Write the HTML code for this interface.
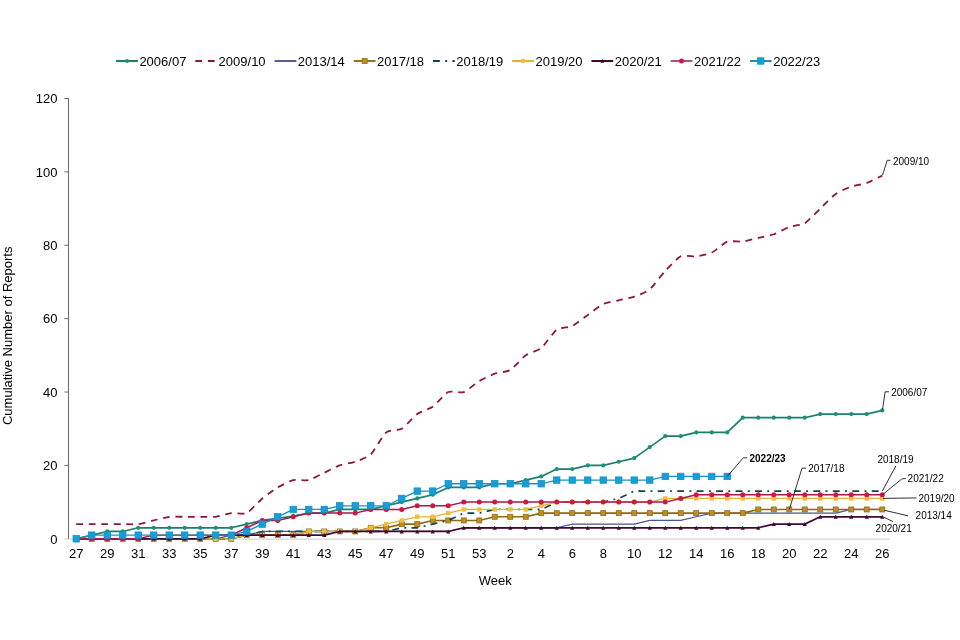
<!DOCTYPE html>
<html lang="en"><head><meta charset="utf-8"><title>Cumulative Number of Reports by Week</title>
<style>html,body{margin:0;padding:0;background:#fff}body{width:960px;height:640px;overflow:hidden}svg{display:block}text{font-family:"Liberation Sans",Arial,sans-serif;fill:#000}.t{font-size:13px}.d{font-size:10px}.b{font-weight:bold}</style></head><body>
<svg width="960" height="640" viewBox="0 0 960 640">
<rect width="960" height="640" fill="#fff"/>
<g id="axes">
<line x1="64.4" y1="539.2" x2="890" y2="539.2" stroke="#d6d6d6" stroke-width="1.2"/>
<line x1="68.5" y1="98" x2="68.5" y2="538.8" stroke="#707070" stroke-width="1.1"/>
<text class="t" x="57.5" y="543.50" text-anchor="end">0</text>
<line x1="64.3" y1="465.42" x2="68.5" y2="465.42" stroke="#6b6b6b" stroke-width="1"/>
<text class="t" x="57.5" y="470.12" text-anchor="end">20</text>
<line x1="64.3" y1="392.04" x2="68.5" y2="392.04" stroke="#6b6b6b" stroke-width="1"/>
<text class="t" x="57.5" y="396.74" text-anchor="end">40</text>
<line x1="64.3" y1="318.66" x2="68.5" y2="318.66" stroke="#6b6b6b" stroke-width="1"/>
<text class="t" x="57.5" y="323.36" text-anchor="end">60</text>
<line x1="64.3" y1="245.28" x2="68.5" y2="245.28" stroke="#6b6b6b" stroke-width="1"/>
<text class="t" x="57.5" y="249.98" text-anchor="end">80</text>
<line x1="64.3" y1="171.90" x2="68.5" y2="171.90" stroke="#6b6b6b" stroke-width="1"/>
<text class="t" x="57.5" y="176.60" text-anchor="end">100</text>
<line x1="64.3" y1="98.52" x2="68.5" y2="98.52" stroke="#6b6b6b" stroke-width="1"/>
<text class="t" x="57.5" y="103.22" text-anchor="end">120</text>
<text class="t" x="76.25" y="558.4" text-anchor="middle">27</text>
<text class="t" x="107.25" y="558.4" text-anchor="middle">29</text>
<text class="t" x="138.25" y="558.4" text-anchor="middle">31</text>
<text class="t" x="169.25" y="558.4" text-anchor="middle">33</text>
<text class="t" x="200.25" y="558.4" text-anchor="middle">35</text>
<text class="t" x="231.25" y="558.4" text-anchor="middle">37</text>
<text class="t" x="262.25" y="558.4" text-anchor="middle">39</text>
<text class="t" x="293.25" y="558.4" text-anchor="middle">41</text>
<text class="t" x="324.25" y="558.4" text-anchor="middle">43</text>
<text class="t" x="355.25" y="558.4" text-anchor="middle">45</text>
<text class="t" x="386.25" y="558.4" text-anchor="middle">47</text>
<text class="t" x="417.25" y="558.4" text-anchor="middle">49</text>
<text class="t" x="448.25" y="558.4" text-anchor="middle">51</text>
<text class="t" x="479.25" y="558.4" text-anchor="middle">53</text>
<text class="t" x="510.25" y="558.4" text-anchor="middle">2</text>
<text class="t" x="541.25" y="558.4" text-anchor="middle">4</text>
<text class="t" x="572.25" y="558.4" text-anchor="middle">6</text>
<text class="t" x="603.25" y="558.4" text-anchor="middle">8</text>
<text class="t" x="634.25" y="558.4" text-anchor="middle">10</text>
<text class="t" x="665.25" y="558.4" text-anchor="middle">12</text>
<text class="t" x="696.25" y="558.4" text-anchor="middle">14</text>
<text class="t" x="727.25" y="558.4" text-anchor="middle">16</text>
<text class="t" x="758.25" y="558.4" text-anchor="middle">18</text>
<text class="t" x="789.25" y="558.4" text-anchor="middle">20</text>
<text class="t" x="820.25" y="558.4" text-anchor="middle">22</text>
<text class="t" x="851.25" y="558.4" text-anchor="middle">24</text>
<text class="t" x="882.25" y="558.4" text-anchor="middle">26</text>
<text class="t" x="495.3" y="585.2" text-anchor="middle">Week</text>
<text class="t" transform="translate(12.1 335.8) rotate(-90)" text-anchor="middle">Cumulative Number of Reports</text>
</g>
<g id="s2006-07">
<path d="M76.25 538.80 L91.75 535.13 L107.25 531.46 L122.75 531.46 L138.25 527.79 L153.75 527.79 L169.25 527.79 L184.75 527.79 L200.25 527.79 L215.75 527.79 L231.25 527.79 L246.75 524.12 L262.25 520.45 L277.75 518.25 L293.25 516.05 L308.75 513.12 L324.25 513.12 L339.75 509.45 L355.25 509.45 L370.75 509.45 L386.25 505.78 L401.75 502.11 L417.25 498.44 L432.75 494.77 L448.25 487.43 L463.75 487.43 L479.25 487.43 L494.75 483.76 L510.25 483.76 L525.75 480.10 L541.25 476.43 L556.75 469.09 L572.25 469.09 L587.75 465.42 L603.25 465.42 L618.75 461.75 L634.25 458.08 L649.75 447.07 L665.25 436.07 L680.75 436.07 L696.25 432.40 L711.75 432.40 L727.25 432.40 L742.75 417.72 L758.25 417.72 L773.75 417.72 L789.25 417.72 L804.75 417.72 L820.25 414.05 L835.75 414.05 L851.25 414.05 L866.75 414.05 L882.25 410.38" fill="none" stroke="#1C7E69" stroke-width="1.7" stroke-linejoin="round"/>
<circle cx="76.25" cy="538.80" r="2.10" fill="#1A917A"/><circle cx="91.75" cy="535.13" r="2.10" fill="#1A917A"/><circle cx="107.25" cy="531.46" r="2.10" fill="#1A917A"/><circle cx="122.75" cy="531.46" r="2.10" fill="#1A917A"/><circle cx="138.25" cy="527.79" r="2.10" fill="#1A917A"/><circle cx="153.75" cy="527.79" r="2.10" fill="#1A917A"/><circle cx="169.25" cy="527.79" r="2.10" fill="#1A917A"/><circle cx="184.75" cy="527.79" r="2.10" fill="#1A917A"/><circle cx="200.25" cy="527.79" r="2.10" fill="#1A917A"/><circle cx="215.75" cy="527.79" r="2.10" fill="#1A917A"/><circle cx="231.25" cy="527.79" r="2.10" fill="#1A917A"/><circle cx="246.75" cy="524.12" r="2.10" fill="#1A917A"/><circle cx="262.25" cy="520.45" r="2.10" fill="#1A917A"/><circle cx="277.75" cy="518.25" r="2.10" fill="#1A917A"/><circle cx="293.25" cy="516.05" r="2.10" fill="#1A917A"/><circle cx="308.75" cy="513.12" r="2.10" fill="#1A917A"/><circle cx="324.25" cy="513.12" r="2.10" fill="#1A917A"/><circle cx="339.75" cy="509.45" r="2.10" fill="#1A917A"/><circle cx="355.25" cy="509.45" r="2.10" fill="#1A917A"/><circle cx="370.75" cy="509.45" r="2.10" fill="#1A917A"/><circle cx="386.25" cy="505.78" r="2.10" fill="#1A917A"/><circle cx="401.75" cy="502.11" r="2.10" fill="#1A917A"/><circle cx="417.25" cy="498.44" r="2.10" fill="#1A917A"/><circle cx="432.75" cy="494.77" r="2.10" fill="#1A917A"/><circle cx="448.25" cy="487.43" r="2.10" fill="#1A917A"/><circle cx="463.75" cy="487.43" r="2.10" fill="#1A917A"/><circle cx="479.25" cy="487.43" r="2.10" fill="#1A917A"/><circle cx="494.75" cy="483.76" r="2.10" fill="#1A917A"/><circle cx="510.25" cy="483.76" r="2.10" fill="#1A917A"/><circle cx="525.75" cy="480.10" r="2.10" fill="#1A917A"/><circle cx="541.25" cy="476.43" r="2.10" fill="#1A917A"/><circle cx="556.75" cy="469.09" r="2.10" fill="#1A917A"/><circle cx="572.25" cy="469.09" r="2.10" fill="#1A917A"/><circle cx="587.75" cy="465.42" r="2.10" fill="#1A917A"/><circle cx="603.25" cy="465.42" r="2.10" fill="#1A917A"/><circle cx="618.75" cy="461.75" r="2.10" fill="#1A917A"/><circle cx="634.25" cy="458.08" r="2.10" fill="#1A917A"/><circle cx="649.75" cy="447.07" r="2.10" fill="#1A917A"/><circle cx="665.25" cy="436.07" r="2.10" fill="#1A917A"/><circle cx="680.75" cy="436.07" r="2.10" fill="#1A917A"/><circle cx="696.25" cy="432.40" r="2.10" fill="#1A917A"/><circle cx="711.75" cy="432.40" r="2.10" fill="#1A917A"/><circle cx="727.25" cy="432.40" r="2.10" fill="#1A917A"/><circle cx="742.75" cy="417.72" r="2.10" fill="#1A917A"/><circle cx="758.25" cy="417.72" r="2.10" fill="#1A917A"/><circle cx="773.75" cy="417.72" r="2.10" fill="#1A917A"/><circle cx="789.25" cy="417.72" r="2.10" fill="#1A917A"/><circle cx="804.75" cy="417.72" r="2.10" fill="#1A917A"/><circle cx="820.25" cy="414.05" r="2.10" fill="#1A917A"/><circle cx="835.75" cy="414.05" r="2.10" fill="#1A917A"/><circle cx="851.25" cy="414.05" r="2.10" fill="#1A917A"/><circle cx="866.75" cy="414.05" r="2.10" fill="#1A917A"/><circle cx="882.25" cy="410.38" r="2.10" fill="#1A917A"/>
</g>
<g id="s2009-10">
<path d="M76.25 524.12 C77.80 524.12 88.65 524.12 91.75 524.12 C94.85 524.12 104.15 524.12 107.25 524.12 C110.35 524.12 119.65 524.12 122.75 524.12 C125.85 524.12 135.15 524.49 138.25 524.12 C141.35 523.76 150.65 521.19 153.75 520.45 C156.85 519.72 166.15 517.15 169.25 516.79 C172.35 516.42 181.65 516.79 184.75 516.79 C187.85 516.79 197.15 516.79 200.25 516.79 C203.35 516.79 212.65 517.15 215.75 516.79 C218.85 516.42 228.15 513.48 231.25 513.12 C234.35 512.75 243.65 514.58 246.75 513.12 C249.85 511.65 259.15 501.01 262.25 498.44 C265.35 495.87 274.65 489.27 277.75 487.43 C280.85 485.60 290.15 480.83 293.25 480.10 C296.35 479.36 305.65 480.83 308.75 480.10 C311.85 479.36 321.15 474.23 324.25 472.76 C327.35 471.29 336.65 466.52 339.75 465.42 C342.85 464.32 352.15 462.85 355.25 461.75 C358.35 460.65 367.65 457.35 370.75 454.41 C373.85 451.48 383.15 434.97 386.25 432.40 C389.35 429.83 398.65 430.56 401.75 428.73 C404.85 426.90 414.15 416.26 417.25 414.05 C420.35 411.85 429.65 408.92 432.75 406.72 C435.85 404.51 445.15 393.51 448.25 392.04 C451.35 390.57 460.65 393.14 463.75 392.04 C466.85 390.94 476.15 382.87 479.25 381.03 C482.35 379.20 491.65 374.80 494.75 373.69 C497.85 372.59 507.15 371.86 510.25 370.03 C513.35 368.19 522.65 357.55 525.75 355.35 C528.85 353.15 538.15 350.58 541.25 348.01 C544.35 345.44 553.65 331.87 556.75 329.67 C559.85 327.47 569.15 327.47 572.25 326.00 C575.35 324.53 584.65 317.19 587.75 314.99 C590.85 312.79 600.15 305.45 603.25 303.98 C606.35 302.52 615.65 301.05 618.75 300.31 C621.85 299.58 631.15 297.75 634.25 296.65 C637.35 295.55 646.65 291.88 649.75 289.31 C652.85 286.74 662.15 274.27 665.25 270.96 C668.35 267.66 677.65 257.75 680.75 256.29 C683.85 254.82 693.15 256.65 696.25 256.29 C699.35 255.92 708.65 254.09 711.75 252.62 C714.85 251.15 724.15 242.71 727.25 241.61 C730.35 240.51 739.65 241.98 742.75 241.61 C745.85 241.24 755.15 238.68 758.25 237.94 C761.35 237.21 770.65 235.37 773.75 234.27 C776.85 233.17 786.15 228.04 789.25 226.93 C792.35 225.83 801.65 225.10 804.75 223.27 C807.85 221.43 817.15 211.53 820.25 208.59 C823.35 205.65 832.65 196.12 835.75 193.91 C838.85 191.71 848.15 187.68 851.25 186.58 C854.35 185.48 863.65 184.01 866.75 182.91 C869.85 181.81 880.70 176.30 882.25 175.57" fill="none" stroke="#8F1638" stroke-width="1.8" stroke-linejoin="round" stroke-dasharray="6.805 5.704"/>
</g>
<g id="s2013-14">
<path d="M76.25 538.80 L91.75 538.80 L107.25 538.80 L122.75 538.80 L138.25 538.80 L153.75 538.80 L169.25 538.80 L184.75 538.80 L200.25 538.80 L215.75 538.80 L231.25 535.13 L246.75 535.13 L262.25 531.46 L277.75 531.46 L293.25 531.46 L308.75 531.46 L324.25 531.46 L339.75 531.46 L355.25 531.46 L370.75 531.46 L386.25 531.46 L401.75 531.46 L417.25 531.46 L432.75 531.46 L448.25 531.46 L463.75 527.79 L479.25 527.79 L494.75 527.79 L510.25 527.79 L525.75 527.79 L541.25 527.79 L556.75 527.79 L572.25 524.12 L587.75 524.12 L603.25 524.12 L618.75 524.12 L634.25 524.12 L649.75 520.45 L665.25 520.45 L680.75 520.45 L696.25 516.79 L711.75 513.12 L727.25 513.12 L742.75 513.12 L758.25 513.12 L773.75 513.12 L789.25 513.12 L804.75 513.12 L820.25 513.12 L835.75 513.12 L851.25 509.45 L866.75 509.45 L882.25 509.45" fill="none" stroke="#46559A" stroke-width="1.2" stroke-linejoin="round"/>
</g>
<g id="s2017-18">
<path d="M76.25 538.80 L91.75 538.80 L107.25 538.80 L122.75 538.80 L138.25 538.80 L153.75 538.80 L169.25 538.80 L184.75 538.80 L200.25 538.80 L215.75 538.80 L231.25 538.80 L246.75 535.13 L262.25 535.13 L277.75 535.13 L293.25 535.13 L308.75 531.46 L324.25 531.46 L339.75 531.46 L355.25 531.46 L370.75 527.79 L386.25 527.79 L401.75 524.12 L417.25 524.12 L432.75 520.45 L448.25 520.45 L463.75 520.45 L479.25 520.45 L494.75 516.79 L510.25 516.79 L525.75 516.79 L541.25 513.12 L556.75 513.12 L572.25 513.12 L587.75 513.12 L603.25 513.12 L618.75 513.12 L634.25 513.12 L649.75 513.12 L665.25 513.12 L680.75 513.12 L696.25 513.12 L711.75 513.12 L727.25 513.12 L742.75 513.12 L758.25 509.45 L773.75 509.45 L789.25 509.45 L804.75 509.45 L820.25 509.45 L835.75 509.45 L851.25 509.45 L866.75 509.45 L882.25 509.45" fill="none" stroke="#8A6A12" stroke-width="1.6" stroke-linejoin="round"/>
<rect x="73.75" y="536.30" width="5.00" height="5.00" fill="#BE911E" stroke="#8F6E14" stroke-width="0.8"/><rect x="89.25" y="536.30" width="5.00" height="5.00" fill="#BE911E" stroke="#8F6E14" stroke-width="0.8"/><rect x="104.75" y="536.30" width="5.00" height="5.00" fill="#BE911E" stroke="#8F6E14" stroke-width="0.8"/><rect x="120.25" y="536.30" width="5.00" height="5.00" fill="#BE911E" stroke="#8F6E14" stroke-width="0.8"/><rect x="135.75" y="536.30" width="5.00" height="5.00" fill="#BE911E" stroke="#8F6E14" stroke-width="0.8"/><rect x="151.25" y="536.30" width="5.00" height="5.00" fill="#BE911E" stroke="#8F6E14" stroke-width="0.8"/><rect x="166.75" y="536.30" width="5.00" height="5.00" fill="#BE911E" stroke="#8F6E14" stroke-width="0.8"/><rect x="182.25" y="536.30" width="5.00" height="5.00" fill="#BE911E" stroke="#8F6E14" stroke-width="0.8"/><rect x="197.75" y="536.30" width="5.00" height="5.00" fill="#BE911E" stroke="#8F6E14" stroke-width="0.8"/><rect x="213.25" y="536.30" width="5.00" height="5.00" fill="#BE911E" stroke="#8F6E14" stroke-width="0.8"/><rect x="228.75" y="536.30" width="5.00" height="5.00" fill="#BE911E" stroke="#8F6E14" stroke-width="0.8"/><rect x="244.25" y="532.63" width="5.00" height="5.00" fill="#BE911E" stroke="#8F6E14" stroke-width="0.8"/><rect x="259.75" y="532.63" width="5.00" height="5.00" fill="#BE911E" stroke="#8F6E14" stroke-width="0.8"/><rect x="275.25" y="532.63" width="5.00" height="5.00" fill="#BE911E" stroke="#8F6E14" stroke-width="0.8"/><rect x="290.75" y="532.63" width="5.00" height="5.00" fill="#BE911E" stroke="#8F6E14" stroke-width="0.8"/><rect x="306.25" y="528.96" width="5.00" height="5.00" fill="#BE911E" stroke="#8F6E14" stroke-width="0.8"/><rect x="321.75" y="528.96" width="5.00" height="5.00" fill="#BE911E" stroke="#8F6E14" stroke-width="0.8"/><rect x="337.25" y="528.96" width="5.00" height="5.00" fill="#BE911E" stroke="#8F6E14" stroke-width="0.8"/><rect x="352.75" y="528.96" width="5.00" height="5.00" fill="#BE911E" stroke="#8F6E14" stroke-width="0.8"/><rect x="368.25" y="525.29" width="5.00" height="5.00" fill="#BE911E" stroke="#8F6E14" stroke-width="0.8"/><rect x="383.75" y="525.29" width="5.00" height="5.00" fill="#BE911E" stroke="#8F6E14" stroke-width="0.8"/><rect x="399.25" y="521.62" width="5.00" height="5.00" fill="#BE911E" stroke="#8F6E14" stroke-width="0.8"/><rect x="414.75" y="521.62" width="5.00" height="5.00" fill="#BE911E" stroke="#8F6E14" stroke-width="0.8"/><rect x="430.25" y="517.95" width="5.00" height="5.00" fill="#BE911E" stroke="#8F6E14" stroke-width="0.8"/><rect x="445.75" y="517.95" width="5.00" height="5.00" fill="#BE911E" stroke="#8F6E14" stroke-width="0.8"/><rect x="461.25" y="517.95" width="5.00" height="5.00" fill="#BE911E" stroke="#8F6E14" stroke-width="0.8"/><rect x="476.75" y="517.95" width="5.00" height="5.00" fill="#BE911E" stroke="#8F6E14" stroke-width="0.8"/><rect x="492.25" y="514.29" width="5.00" height="5.00" fill="#BE911E" stroke="#8F6E14" stroke-width="0.8"/><rect x="507.75" y="514.29" width="5.00" height="5.00" fill="#BE911E" stroke="#8F6E14" stroke-width="0.8"/><rect x="523.25" y="514.29" width="5.00" height="5.00" fill="#BE911E" stroke="#8F6E14" stroke-width="0.8"/><rect x="538.75" y="510.62" width="5.00" height="5.00" fill="#BE911E" stroke="#8F6E14" stroke-width="0.8"/><rect x="554.25" y="510.62" width="5.00" height="5.00" fill="#BE911E" stroke="#8F6E14" stroke-width="0.8"/><rect x="569.75" y="510.62" width="5.00" height="5.00" fill="#BE911E" stroke="#8F6E14" stroke-width="0.8"/><rect x="585.25" y="510.62" width="5.00" height="5.00" fill="#BE911E" stroke="#8F6E14" stroke-width="0.8"/><rect x="600.75" y="510.62" width="5.00" height="5.00" fill="#BE911E" stroke="#8F6E14" stroke-width="0.8"/><rect x="616.25" y="510.62" width="5.00" height="5.00" fill="#BE911E" stroke="#8F6E14" stroke-width="0.8"/><rect x="631.75" y="510.62" width="5.00" height="5.00" fill="#BE911E" stroke="#8F6E14" stroke-width="0.8"/><rect x="647.25" y="510.62" width="5.00" height="5.00" fill="#BE911E" stroke="#8F6E14" stroke-width="0.8"/><rect x="662.75" y="510.62" width="5.00" height="5.00" fill="#BE911E" stroke="#8F6E14" stroke-width="0.8"/><rect x="678.25" y="510.62" width="5.00" height="5.00" fill="#BE911E" stroke="#8F6E14" stroke-width="0.8"/><rect x="693.75" y="510.62" width="5.00" height="5.00" fill="#BE911E" stroke="#8F6E14" stroke-width="0.8"/><rect x="709.25" y="510.62" width="5.00" height="5.00" fill="#BE911E" stroke="#8F6E14" stroke-width="0.8"/><rect x="724.75" y="510.62" width="5.00" height="5.00" fill="#BE911E" stroke="#8F6E14" stroke-width="0.8"/><rect x="740.25" y="510.62" width="5.00" height="5.00" fill="#BE911E" stroke="#8F6E14" stroke-width="0.8"/><rect x="755.75" y="506.95" width="5.00" height="5.00" fill="#BE911E" stroke="#8F6E14" stroke-width="0.8"/><rect x="771.25" y="506.95" width="5.00" height="5.00" fill="#BE911E" stroke="#8F6E14" stroke-width="0.8"/><rect x="786.75" y="506.95" width="5.00" height="5.00" fill="#BE911E" stroke="#8F6E14" stroke-width="0.8"/><rect x="802.25" y="506.95" width="5.00" height="5.00" fill="#BE911E" stroke="#8F6E14" stroke-width="0.8"/><rect x="817.75" y="506.95" width="5.00" height="5.00" fill="#BE911E" stroke="#8F6E14" stroke-width="0.8"/><rect x="833.25" y="506.95" width="5.00" height="5.00" fill="#BE911E" stroke="#8F6E14" stroke-width="0.8"/><rect x="848.75" y="506.95" width="5.00" height="5.00" fill="#BE911E" stroke="#8F6E14" stroke-width="0.8"/><rect x="864.25" y="506.95" width="5.00" height="5.00" fill="#BE911E" stroke="#8F6E14" stroke-width="0.8"/><rect x="879.75" y="506.95" width="5.00" height="5.00" fill="#BE911E" stroke="#8F6E14" stroke-width="0.8"/>
</g>
<g id="s2018-19">
<path d="M76.25 538.80 L91.75 538.80 L107.25 538.80 L122.75 538.80 L138.25 538.80 L153.75 538.80 L169.25 538.80 L184.75 538.80 L200.25 538.80 L215.75 538.80 L231.25 538.80 L246.75 535.13 L262.25 531.46 L277.75 531.46 L293.25 531.46 L308.75 531.46 L324.25 531.46 L339.75 531.46 L355.25 531.46 L370.75 531.46 L386.25 531.46 L401.75 527.79 L417.25 527.79 L432.75 524.12 L448.25 520.45 L463.75 513.12 L479.25 513.12 L494.75 509.45 L510.25 509.45 L525.75 509.45 L541.25 509.45 L556.75 502.11 L572.25 502.11 L587.75 502.11 L603.25 502.11 L618.75 498.44 L634.25 491.10 L649.75 491.10 L665.25 491.10 L680.75 491.10 L696.25 491.10 L711.75 491.10 L727.25 491.10 L742.75 491.10 L758.25 491.10 L773.75 491.10 L789.25 491.10 L804.75 491.10 L820.25 491.10 L835.75 491.10 L851.25 491.10 L866.75 491.10 L882.25 491.10" fill="none" stroke="#0D4552" stroke-width="1.7" stroke-linejoin="round" stroke-dasharray="6.9 5.35 1.9 5.3" stroke-dashoffset="13.50"/>
</g>
<g id="s2019-20">
<path d="M76.25 538.80 L91.75 538.80 L107.25 538.80 L122.75 538.80 L138.25 538.80 L153.75 538.80 L169.25 538.80 L184.75 538.80 L200.25 538.80 L215.75 538.80 L231.25 538.80 L246.75 535.13 L262.25 535.13 L277.75 535.13 L293.25 535.13 L308.75 531.46 L324.25 531.46 L339.75 531.46 L355.25 531.46 L370.75 527.79 L386.25 524.12 L401.75 520.45 L417.25 516.79 L432.75 516.79 L448.25 513.12 L463.75 509.45 L479.25 509.45 L494.75 509.45 L510.25 509.45 L525.75 509.45 L541.25 505.78 L556.75 502.11 L572.25 502.11 L587.75 502.11 L603.25 502.11 L618.75 502.11 L634.25 502.11 L649.75 502.11 L665.25 498.44 L680.75 498.44 L696.25 498.44 L711.75 498.44 L727.25 498.44 L742.75 498.44 L758.25 498.44 L773.75 498.44 L789.25 498.44 L804.75 498.44 L820.25 498.44 L835.75 498.44 L851.25 498.44 L866.75 498.44 L882.25 498.44" fill="none" stroke="#E4B233" stroke-width="1.3" stroke-linejoin="round"/>
<rect x="74.05" y="536.60" width="4.40" height="4.40" fill="#F3BC3A"/><rect x="89.55" y="536.60" width="4.40" height="4.40" fill="#F3BC3A"/><rect x="105.05" y="536.60" width="4.40" height="4.40" fill="#F3BC3A"/><rect x="120.55" y="536.60" width="4.40" height="4.40" fill="#F3BC3A"/><rect x="136.05" y="536.60" width="4.40" height="4.40" fill="#F3BC3A"/><rect x="151.55" y="536.60" width="4.40" height="4.40" fill="#F3BC3A"/><rect x="167.05" y="536.60" width="4.40" height="4.40" fill="#F3BC3A"/><rect x="182.55" y="536.60" width="4.40" height="4.40" fill="#F3BC3A"/><rect x="198.05" y="536.60" width="4.40" height="4.40" fill="#F3BC3A"/><rect x="213.55" y="536.60" width="4.40" height="4.40" fill="#F3BC3A"/><rect x="229.05" y="536.60" width="4.40" height="4.40" fill="#F3BC3A"/><rect x="244.55" y="532.93" width="4.40" height="4.40" fill="#F3BC3A"/><rect x="260.05" y="532.93" width="4.40" height="4.40" fill="#F3BC3A"/><rect x="275.55" y="532.93" width="4.40" height="4.40" fill="#F3BC3A"/><rect x="291.05" y="532.93" width="4.40" height="4.40" fill="#F3BC3A"/><rect x="306.55" y="529.26" width="4.40" height="4.40" fill="#F3BC3A"/><rect x="322.05" y="529.26" width="4.40" height="4.40" fill="#F3BC3A"/><rect x="337.55" y="529.26" width="4.40" height="4.40" fill="#F3BC3A"/><rect x="353.05" y="529.26" width="4.40" height="4.40" fill="#F3BC3A"/><rect x="368.55" y="525.59" width="4.40" height="4.40" fill="#F3BC3A"/><rect x="384.05" y="521.92" width="4.40" height="4.40" fill="#F3BC3A"/><rect x="399.55" y="518.25" width="4.40" height="4.40" fill="#F3BC3A"/><rect x="415.05" y="514.59" width="4.40" height="4.40" fill="#F3BC3A"/><rect x="430.55" y="514.59" width="4.40" height="4.40" fill="#F3BC3A"/><rect x="446.05" y="510.92" width="4.40" height="4.40" fill="#F3BC3A"/><rect x="461.55" y="507.25" width="4.40" height="4.40" fill="#F3BC3A"/><rect x="477.05" y="507.25" width="4.40" height="4.40" fill="#F3BC3A"/><rect x="492.55" y="507.25" width="4.40" height="4.40" fill="#F3BC3A"/><rect x="508.05" y="507.25" width="4.40" height="4.40" fill="#F3BC3A"/><rect x="523.55" y="507.25" width="4.40" height="4.40" fill="#F3BC3A"/><rect x="539.05" y="503.58" width="4.40" height="4.40" fill="#F3BC3A"/><rect x="554.55" y="499.91" width="4.40" height="4.40" fill="#F3BC3A"/><rect x="570.05" y="499.91" width="4.40" height="4.40" fill="#F3BC3A"/><rect x="585.55" y="499.91" width="4.40" height="4.40" fill="#F3BC3A"/><rect x="601.05" y="499.91" width="4.40" height="4.40" fill="#F3BC3A"/><rect x="616.55" y="499.91" width="4.40" height="4.40" fill="#F3BC3A"/><rect x="632.05" y="499.91" width="4.40" height="4.40" fill="#F3BC3A"/><rect x="647.55" y="499.91" width="4.40" height="4.40" fill="#F3BC3A"/><rect x="663.05" y="496.24" width="4.40" height="4.40" fill="#F3BC3A"/><rect x="678.55" y="496.24" width="4.40" height="4.40" fill="#F3BC3A"/><rect x="694.05" y="496.24" width="4.40" height="4.40" fill="#F3BC3A"/><rect x="709.55" y="496.24" width="4.40" height="4.40" fill="#F3BC3A"/><rect x="725.05" y="496.24" width="4.40" height="4.40" fill="#F3BC3A"/><rect x="740.55" y="496.24" width="4.40" height="4.40" fill="#F3BC3A"/><rect x="756.05" y="496.24" width="4.40" height="4.40" fill="#F3BC3A"/><rect x="771.55" y="496.24" width="4.40" height="4.40" fill="#F3BC3A"/><rect x="787.05" y="496.24" width="4.40" height="4.40" fill="#F3BC3A"/><rect x="802.55" y="496.24" width="4.40" height="4.40" fill="#F3BC3A"/><rect x="818.05" y="496.24" width="4.40" height="4.40" fill="#F3BC3A"/><rect x="833.55" y="496.24" width="4.40" height="4.40" fill="#F3BC3A"/><rect x="849.05" y="496.24" width="4.40" height="4.40" fill="#F3BC3A"/><rect x="864.55" y="496.24" width="4.40" height="4.40" fill="#F3BC3A"/><rect x="880.05" y="496.24" width="4.40" height="4.40" fill="#F3BC3A"/>
</g>
<g id="s2020-21">
<path d="M76.25 538.80 L91.75 538.80 L107.25 538.80 L122.75 538.80 L138.25 538.80 L153.75 538.80 L169.25 538.80 L184.75 538.80 L200.25 538.80 L215.75 535.13 L231.25 535.13 L246.75 535.13 L262.25 535.13 L277.75 535.13 L293.25 535.13 L308.75 535.13 L324.25 535.13 L339.75 531.46 L355.25 531.46 L370.75 531.46 L386.25 531.46 L401.75 531.46 L417.25 531.46 L432.75 531.46 L448.25 531.46 L463.75 527.79 L479.25 527.79 L494.75 527.79 L510.25 527.79 L525.75 527.79 L541.25 527.79 L556.75 527.79 L572.25 527.79 L587.75 527.79 L603.25 527.79 L618.75 527.79 L634.25 527.79 L649.75 527.79 L665.25 527.79 L680.75 527.79 L696.25 527.79 L711.75 527.79 L727.25 527.79 L742.75 527.79 L758.25 527.79 L773.75 524.12 L789.25 524.12 L804.75 524.12 L820.25 516.79 L835.75 516.79 L851.25 516.79 L866.75 516.79 L882.25 516.79" fill="none" stroke="#42092F" stroke-width="1.7" stroke-linejoin="round"/>
<path d="M76.25 536.74 L78.40 540.78 L74.10 540.78 Z" fill="#42092F"/><path d="M91.75 536.74 L93.90 540.78 L89.60 540.78 Z" fill="#42092F"/><path d="M107.25 536.74 L109.40 540.78 L105.10 540.78 Z" fill="#42092F"/><path d="M122.75 536.74 L124.90 540.78 L120.60 540.78 Z" fill="#42092F"/><path d="M138.25 536.74 L140.40 540.78 L136.10 540.78 Z" fill="#42092F"/><path d="M153.75 536.74 L155.90 540.78 L151.60 540.78 Z" fill="#42092F"/><path d="M169.25 536.74 L171.40 540.78 L167.10 540.78 Z" fill="#42092F"/><path d="M184.75 536.74 L186.90 540.78 L182.60 540.78 Z" fill="#42092F"/><path d="M200.25 536.74 L202.40 540.78 L198.10 540.78 Z" fill="#42092F"/><path d="M215.75 533.07 L217.90 537.11 L213.60 537.11 Z" fill="#42092F"/><path d="M231.25 533.07 L233.40 537.11 L229.10 537.11 Z" fill="#42092F"/><path d="M246.75 533.07 L248.90 537.11 L244.60 537.11 Z" fill="#42092F"/><path d="M262.25 533.07 L264.40 537.11 L260.10 537.11 Z" fill="#42092F"/><path d="M277.75 533.07 L279.90 537.11 L275.60 537.11 Z" fill="#42092F"/><path d="M293.25 533.07 L295.40 537.11 L291.10 537.11 Z" fill="#42092F"/><path d="M308.75 533.07 L310.90 537.11 L306.60 537.11 Z" fill="#42092F"/><path d="M324.25 533.07 L326.40 537.11 L322.10 537.11 Z" fill="#42092F"/><path d="M339.75 529.40 L341.90 533.44 L337.60 533.44 Z" fill="#42092F"/><path d="M355.25 529.40 L357.40 533.44 L353.10 533.44 Z" fill="#42092F"/><path d="M370.75 529.40 L372.90 533.44 L368.60 533.44 Z" fill="#42092F"/><path d="M386.25 529.40 L388.40 533.44 L384.10 533.44 Z" fill="#42092F"/><path d="M401.75 529.40 L403.90 533.44 L399.60 533.44 Z" fill="#42092F"/><path d="M417.25 529.40 L419.40 533.44 L415.10 533.44 Z" fill="#42092F"/><path d="M432.75 529.40 L434.90 533.44 L430.60 533.44 Z" fill="#42092F"/><path d="M448.25 529.40 L450.40 533.44 L446.10 533.44 Z" fill="#42092F"/><path d="M463.75 525.73 L465.90 529.77 L461.60 529.77 Z" fill="#42092F"/><path d="M479.25 525.73 L481.40 529.77 L477.10 529.77 Z" fill="#42092F"/><path d="M494.75 525.73 L496.90 529.77 L492.60 529.77 Z" fill="#42092F"/><path d="M510.25 525.73 L512.40 529.77 L508.10 529.77 Z" fill="#42092F"/><path d="M525.75 525.73 L527.90 529.77 L523.60 529.77 Z" fill="#42092F"/><path d="M541.25 525.73 L543.40 529.77 L539.10 529.77 Z" fill="#42092F"/><path d="M556.75 525.73 L558.90 529.77 L554.60 529.77 Z" fill="#42092F"/><path d="M572.25 525.73 L574.40 529.77 L570.10 529.77 Z" fill="#42092F"/><path d="M587.75 525.73 L589.90 529.77 L585.60 529.77 Z" fill="#42092F"/><path d="M603.25 525.73 L605.40 529.77 L601.10 529.77 Z" fill="#42092F"/><path d="M618.75 525.73 L620.90 529.77 L616.60 529.77 Z" fill="#42092F"/><path d="M634.25 525.73 L636.40 529.77 L632.10 529.77 Z" fill="#42092F"/><path d="M649.75 525.73 L651.90 529.77 L647.60 529.77 Z" fill="#42092F"/><path d="M665.25 525.73 L667.40 529.77 L663.10 529.77 Z" fill="#42092F"/><path d="M680.75 525.73 L682.90 529.77 L678.60 529.77 Z" fill="#42092F"/><path d="M696.25 525.73 L698.40 529.77 L694.10 529.77 Z" fill="#42092F"/><path d="M711.75 525.73 L713.90 529.77 L709.60 529.77 Z" fill="#42092F"/><path d="M727.25 525.73 L729.40 529.77 L725.10 529.77 Z" fill="#42092F"/><path d="M742.75 525.73 L744.90 529.77 L740.60 529.77 Z" fill="#42092F"/><path d="M758.25 525.73 L760.40 529.77 L756.10 529.77 Z" fill="#42092F"/><path d="M773.75 522.06 L775.90 526.10 L771.60 526.10 Z" fill="#42092F"/><path d="M789.25 522.06 L791.40 526.10 L787.10 526.10 Z" fill="#42092F"/><path d="M804.75 522.06 L806.90 526.10 L802.60 526.10 Z" fill="#42092F"/><path d="M820.25 514.72 L822.40 518.76 L818.10 518.76 Z" fill="#42092F"/><path d="M835.75 514.72 L837.90 518.76 L833.60 518.76 Z" fill="#42092F"/><path d="M851.25 514.72 L853.40 518.76 L849.10 518.76 Z" fill="#42092F"/><path d="M866.75 514.72 L868.90 518.76 L864.60 518.76 Z" fill="#42092F"/><path d="M882.25 514.72 L884.40 518.76 L880.10 518.76 Z" fill="#42092F"/>
</g>
<g id="s2021-22">
<path d="M76.25 538.80 L91.75 538.80 L107.25 538.80 L122.75 538.80 L138.25 538.80 L153.75 535.13 L169.25 535.13 L184.75 535.13 L200.25 535.13 L215.75 535.13 L231.25 535.13 L246.75 527.79 L262.25 520.45 L277.75 520.45 L293.25 516.79 L308.75 513.12 L324.25 513.12 L339.75 513.12 L355.25 513.12 L370.75 509.45 L386.25 509.45 L401.75 509.45 L417.25 505.78 L432.75 505.78 L448.25 505.78 L463.75 502.11 L479.25 502.11 L494.75 502.11 L510.25 502.11 L525.75 502.11 L541.25 502.11 L556.75 502.11 L572.25 502.11 L587.75 502.11 L603.25 502.11 L618.75 502.11 L634.25 502.11 L649.75 502.11 L665.25 502.11 L680.75 498.44 L696.25 494.77 L711.75 494.77 L727.25 494.77 L742.75 494.77 L758.25 494.77 L773.75 494.77 L789.25 494.77 L804.75 494.77 L820.25 494.77 L835.75 494.77 L851.25 494.77 L866.75 494.77 L882.25 494.77" fill="none" stroke="#A8194B" stroke-width="1.5" stroke-linejoin="round"/>
<circle cx="76.25" cy="538.80" r="2.50" fill="#D4153F"/><circle cx="91.75" cy="538.80" r="2.50" fill="#D4153F"/><circle cx="107.25" cy="538.80" r="2.50" fill="#D4153F"/><circle cx="122.75" cy="538.80" r="2.50" fill="#D4153F"/><circle cx="138.25" cy="538.80" r="2.50" fill="#D4153F"/><circle cx="153.75" cy="535.13" r="2.50" fill="#D4153F"/><circle cx="169.25" cy="535.13" r="2.50" fill="#D4153F"/><circle cx="184.75" cy="535.13" r="2.50" fill="#D4153F"/><circle cx="200.25" cy="535.13" r="2.50" fill="#D4153F"/><circle cx="215.75" cy="535.13" r="2.50" fill="#D4153F"/><circle cx="231.25" cy="535.13" r="2.50" fill="#D4153F"/><circle cx="246.75" cy="527.79" r="2.50" fill="#D4153F"/><circle cx="262.25" cy="520.45" r="2.50" fill="#D4153F"/><circle cx="277.75" cy="520.45" r="2.50" fill="#D4153F"/><circle cx="293.25" cy="516.79" r="2.50" fill="#D4153F"/><circle cx="308.75" cy="513.12" r="2.50" fill="#D4153F"/><circle cx="324.25" cy="513.12" r="2.50" fill="#D4153F"/><circle cx="339.75" cy="513.12" r="2.50" fill="#D4153F"/><circle cx="355.25" cy="513.12" r="2.50" fill="#D4153F"/><circle cx="370.75" cy="509.45" r="2.50" fill="#D4153F"/><circle cx="386.25" cy="509.45" r="2.50" fill="#D4153F"/><circle cx="401.75" cy="509.45" r="2.50" fill="#D4153F"/><circle cx="417.25" cy="505.78" r="2.50" fill="#D4153F"/><circle cx="432.75" cy="505.78" r="2.50" fill="#D4153F"/><circle cx="448.25" cy="505.78" r="2.50" fill="#D4153F"/><circle cx="463.75" cy="502.11" r="2.50" fill="#D4153F"/><circle cx="479.25" cy="502.11" r="2.50" fill="#D4153F"/><circle cx="494.75" cy="502.11" r="2.50" fill="#D4153F"/><circle cx="510.25" cy="502.11" r="2.50" fill="#D4153F"/><circle cx="525.75" cy="502.11" r="2.50" fill="#D4153F"/><circle cx="541.25" cy="502.11" r="2.50" fill="#D4153F"/><circle cx="556.75" cy="502.11" r="2.50" fill="#D4153F"/><circle cx="572.25" cy="502.11" r="2.50" fill="#D4153F"/><circle cx="587.75" cy="502.11" r="2.50" fill="#D4153F"/><circle cx="603.25" cy="502.11" r="2.50" fill="#D4153F"/><circle cx="618.75" cy="502.11" r="2.50" fill="#D4153F"/><circle cx="634.25" cy="502.11" r="2.50" fill="#D4153F"/><circle cx="649.75" cy="502.11" r="2.50" fill="#D4153F"/><circle cx="665.25" cy="502.11" r="2.50" fill="#D4153F"/><circle cx="680.75" cy="498.44" r="2.50" fill="#D4153F"/><circle cx="696.25" cy="494.77" r="2.50" fill="#D4153F"/><circle cx="711.75" cy="494.77" r="2.50" fill="#D4153F"/><circle cx="727.25" cy="494.77" r="2.50" fill="#D4153F"/><circle cx="742.75" cy="494.77" r="2.50" fill="#D4153F"/><circle cx="758.25" cy="494.77" r="2.50" fill="#D4153F"/><circle cx="773.75" cy="494.77" r="2.50" fill="#D4153F"/><circle cx="789.25" cy="494.77" r="2.50" fill="#D4153F"/><circle cx="804.75" cy="494.77" r="2.50" fill="#D4153F"/><circle cx="820.25" cy="494.77" r="2.50" fill="#D4153F"/><circle cx="835.75" cy="494.77" r="2.50" fill="#D4153F"/><circle cx="851.25" cy="494.77" r="2.50" fill="#D4153F"/><circle cx="866.75" cy="494.77" r="2.50" fill="#D4153F"/><circle cx="882.25" cy="494.77" r="2.50" fill="#D4153F"/>
</g>
<g id="s2022-23">
<path d="M76.25 538.80 L91.75 535.13 L107.25 535.13 L122.75 535.13 L138.25 535.13 L153.75 535.13 L169.25 535.13 L184.75 535.13 L200.25 535.13 L215.75 535.13 L231.25 535.13 L246.75 531.46 L262.25 524.12 L277.75 516.79 L293.25 509.45 L308.75 509.45 L324.25 509.45 L339.75 505.78 L355.25 505.78 L370.75 505.78 L386.25 505.78 L401.75 498.44 L417.25 491.10 L432.75 491.10 L448.25 483.76 L463.75 483.76 L479.25 483.76 L494.75 483.76 L510.25 483.76 L525.75 483.76 L541.25 483.76 L556.75 480.10 L572.25 480.10 L587.75 480.10 L603.25 480.10 L618.75 480.10 L634.25 480.10 L649.75 480.10 L665.25 476.43 L680.75 476.43 L696.25 476.43 L711.75 476.43 L727.25 476.43" fill="none" stroke="#2090C0" stroke-width="1.3" stroke-linejoin="round"/>
<rect x="73.05" y="535.60" width="6.40" height="6.40" fill="#14A0D7" stroke="#1890C6" stroke-width="0.8"/><rect x="88.55" y="531.93" width="6.40" height="6.40" fill="#14A0D7" stroke="#1890C6" stroke-width="0.8"/><rect x="104.05" y="531.93" width="6.40" height="6.40" fill="#14A0D7" stroke="#1890C6" stroke-width="0.8"/><rect x="119.55" y="531.93" width="6.40" height="6.40" fill="#14A0D7" stroke="#1890C6" stroke-width="0.8"/><rect x="135.05" y="531.93" width="6.40" height="6.40" fill="#14A0D7" stroke="#1890C6" stroke-width="0.8"/><rect x="150.55" y="531.93" width="6.40" height="6.40" fill="#14A0D7" stroke="#1890C6" stroke-width="0.8"/><rect x="166.05" y="531.93" width="6.40" height="6.40" fill="#14A0D7" stroke="#1890C6" stroke-width="0.8"/><rect x="181.55" y="531.93" width="6.40" height="6.40" fill="#14A0D7" stroke="#1890C6" stroke-width="0.8"/><rect x="197.05" y="531.93" width="6.40" height="6.40" fill="#14A0D7" stroke="#1890C6" stroke-width="0.8"/><rect x="212.55" y="531.93" width="6.40" height="6.40" fill="#14A0D7" stroke="#1890C6" stroke-width="0.8"/><rect x="228.05" y="531.93" width="6.40" height="6.40" fill="#14A0D7" stroke="#1890C6" stroke-width="0.8"/><rect x="243.55" y="528.26" width="6.40" height="6.40" fill="#14A0D7" stroke="#1890C6" stroke-width="0.8"/><rect x="259.05" y="520.92" width="6.40" height="6.40" fill="#14A0D7" stroke="#1890C6" stroke-width="0.8"/><rect x="274.55" y="513.59" width="6.40" height="6.40" fill="#14A0D7" stroke="#1890C6" stroke-width="0.8"/><rect x="290.05" y="506.25" width="6.40" height="6.40" fill="#14A0D7" stroke="#1890C6" stroke-width="0.8"/><rect x="305.55" y="506.25" width="6.40" height="6.40" fill="#14A0D7" stroke="#1890C6" stroke-width="0.8"/><rect x="321.05" y="506.25" width="6.40" height="6.40" fill="#14A0D7" stroke="#1890C6" stroke-width="0.8"/><rect x="336.55" y="502.58" width="6.40" height="6.40" fill="#14A0D7" stroke="#1890C6" stroke-width="0.8"/><rect x="352.05" y="502.58" width="6.40" height="6.40" fill="#14A0D7" stroke="#1890C6" stroke-width="0.8"/><rect x="367.55" y="502.58" width="6.40" height="6.40" fill="#14A0D7" stroke="#1890C6" stroke-width="0.8"/><rect x="383.05" y="502.58" width="6.40" height="6.40" fill="#14A0D7" stroke="#1890C6" stroke-width="0.8"/><rect x="398.55" y="495.24" width="6.40" height="6.40" fill="#14A0D7" stroke="#1890C6" stroke-width="0.8"/><rect x="414.05" y="487.90" width="6.40" height="6.40" fill="#14A0D7" stroke="#1890C6" stroke-width="0.8"/><rect x="429.55" y="487.90" width="6.40" height="6.40" fill="#14A0D7" stroke="#1890C6" stroke-width="0.8"/><rect x="445.05" y="480.56" width="6.40" height="6.40" fill="#14A0D7" stroke="#1890C6" stroke-width="0.8"/><rect x="460.55" y="480.56" width="6.40" height="6.40" fill="#14A0D7" stroke="#1890C6" stroke-width="0.8"/><rect x="476.05" y="480.56" width="6.40" height="6.40" fill="#14A0D7" stroke="#1890C6" stroke-width="0.8"/><rect x="491.55" y="480.56" width="6.40" height="6.40" fill="#14A0D7" stroke="#1890C6" stroke-width="0.8"/><rect x="507.05" y="480.56" width="6.40" height="6.40" fill="#14A0D7" stroke="#1890C6" stroke-width="0.8"/><rect x="522.55" y="480.56" width="6.40" height="6.40" fill="#14A0D7" stroke="#1890C6" stroke-width="0.8"/><rect x="538.05" y="480.56" width="6.40" height="6.40" fill="#14A0D7" stroke="#1890C6" stroke-width="0.8"/><rect x="553.55" y="476.90" width="6.40" height="6.40" fill="#14A0D7" stroke="#1890C6" stroke-width="0.8"/><rect x="569.05" y="476.90" width="6.40" height="6.40" fill="#14A0D7" stroke="#1890C6" stroke-width="0.8"/><rect x="584.55" y="476.90" width="6.40" height="6.40" fill="#14A0D7" stroke="#1890C6" stroke-width="0.8"/><rect x="600.05" y="476.90" width="6.40" height="6.40" fill="#14A0D7" stroke="#1890C6" stroke-width="0.8"/><rect x="615.55" y="476.90" width="6.40" height="6.40" fill="#14A0D7" stroke="#1890C6" stroke-width="0.8"/><rect x="631.05" y="476.90" width="6.40" height="6.40" fill="#14A0D7" stroke="#1890C6" stroke-width="0.8"/><rect x="646.55" y="476.90" width="6.40" height="6.40" fill="#14A0D7" stroke="#1890C6" stroke-width="0.8"/><rect x="662.05" y="473.23" width="6.40" height="6.40" fill="#14A0D7" stroke="#1890C6" stroke-width="0.8"/><rect x="677.55" y="473.23" width="6.40" height="6.40" fill="#14A0D7" stroke="#1890C6" stroke-width="0.8"/><rect x="693.05" y="473.23" width="6.40" height="6.40" fill="#14A0D7" stroke="#1890C6" stroke-width="0.8"/><rect x="708.55" y="473.23" width="6.40" height="6.40" fill="#14A0D7" stroke="#1890C6" stroke-width="0.8"/><rect x="724.05" y="473.23" width="6.40" height="6.40" fill="#14A0D7" stroke="#1890C6" stroke-width="0.8"/>
</g>
<g id="legend">
<line x1="116.10" y1="61.00" x2="137.90" y2="61.00" stroke="#1C7E69" stroke-width="2.1"/>
<circle cx="127.00" cy="61.00" r="1.90" fill="#1A917A"/>
<text class="t" x="139.40" y="65.6">2006/07</text>
<line x1="195.32" y1="61.00" x2="217.12" y2="61.00" stroke="#8F1638" stroke-width="2" stroke-dasharray="6.805 5.704"/>
<text class="t" x="218.62" y="65.6">2009/10</text>
<line x1="274.54" y1="61.00" x2="296.34" y2="61.00" stroke="#464B91" stroke-width="1.8"/>
<text class="t" x="297.84" y="65.6">2013/14</text>
<line x1="353.76" y1="61.00" x2="375.56" y2="61.00" stroke="#9A7414" stroke-width="2"/>
<rect x="362.16" y="58.50" width="5.00" height="5.00" fill="#BE911E" stroke="#8F6E14" stroke-width="0.8"/>
<text class="t" x="377.06" y="65.6">2017/18</text>
<line x1="432.98" y1="61.00" x2="454.78" y2="61.00" stroke="#0D4552" stroke-width="2" stroke-dasharray="6.9 5.35 1.9 5.3"/>
<text class="t" x="456.28" y="65.6">2018/19</text>
<line x1="512.20" y1="61.00" x2="534.00" y2="61.00" stroke="#E4B233" stroke-width="2"/>
<rect x="521.00" y="58.90" width="4.20" height="4.20" fill="#F3BC3A"/>
<text class="t" x="535.50" y="65.6">2019/20</text>
<line x1="591.42" y1="61.00" x2="613.22" y2="61.00" stroke="#42092F" stroke-width="2"/>
<path d="M602.32 59.08 L604.32 62.84 L600.32 62.84 Z" fill="#42092F"/>
<text class="t" x="614.72" y="65.6">2020/21</text>
<line x1="670.64" y1="61.00" x2="692.44" y2="61.00" stroke="#7E1238" stroke-width="1.4"/>
<circle cx="681.54" cy="61.00" r="2.50" fill="#D4153F"/>
<text class="t" x="693.94" y="65.6">2021/22</text>
<line x1="749.86" y1="61.00" x2="771.66" y2="61.00" stroke="#1A7CA8" stroke-width="1.8"/>
<rect x="757.56" y="57.80" width="6.40" height="6.40" fill="#14A0D7" stroke="#1890C6" stroke-width="0.8"/>
<text class="t" x="773.16" y="65.6">2022/23</text>
</g>
<g id="labels">
<path d="M882.50 175.20 L887.20 160.30 L890.50 160.30" fill="none" stroke="#1a1a1a" stroke-width="0.9"/>
<text class="d" x="893.00" y="164.60">2009/10</text>
<path d="M882.50 409.50 L885.20 391.80 L889.00 391.80" fill="none" stroke="#1a1a1a" stroke-width="0.9"/>
<text class="d" x="891.20" y="395.60">2006/07</text>
<path d="M727.30 476.40 L743.30 457.80 L747.20 457.80" fill="none" stroke="#1a1a1a" stroke-width="0.9"/>
<text class="d b" x="749.50" y="461.80">2022/23</text>
<path d="M789.30 509.40 L802.00 468.20 L806.00 468.20" fill="none" stroke="#1a1a1a" stroke-width="0.9"/>
<text class="d" x="808.30" y="471.60">2017/18</text>
<path d="M882.30 491.10 L895.90 465.80" fill="none" stroke="#1a1a1a" stroke-width="0.9"/>
<text class="d" x="877.40" y="462.60">2018/19</text>
<path d="M882.50 494.70 L901.70 479.00 L905.80 478.40" fill="none" stroke="#1a1a1a" stroke-width="0.9"/>
<text class="d" x="907.60" y="482.20">2021/22</text>
<path d="M883.00 498.40 L916.60 497.90" fill="none" stroke="#1a1a1a" stroke-width="0.9"/>
<text class="d" x="918.50" y="502.20">2019/20</text>
<path d="M884.50 510.30 L908.00 515.80" fill="none" stroke="#1a1a1a" stroke-width="0.9"/>
<text class="d" x="915.60" y="519.10">2013/14</text>
<path d="M883.00 516.90 L893.00 521.60" fill="none" stroke="#1a1a1a" stroke-width="0.9"/>
<text class="d" x="875.60" y="532.20">2020/21</text>
</g>
</svg></body></html>
